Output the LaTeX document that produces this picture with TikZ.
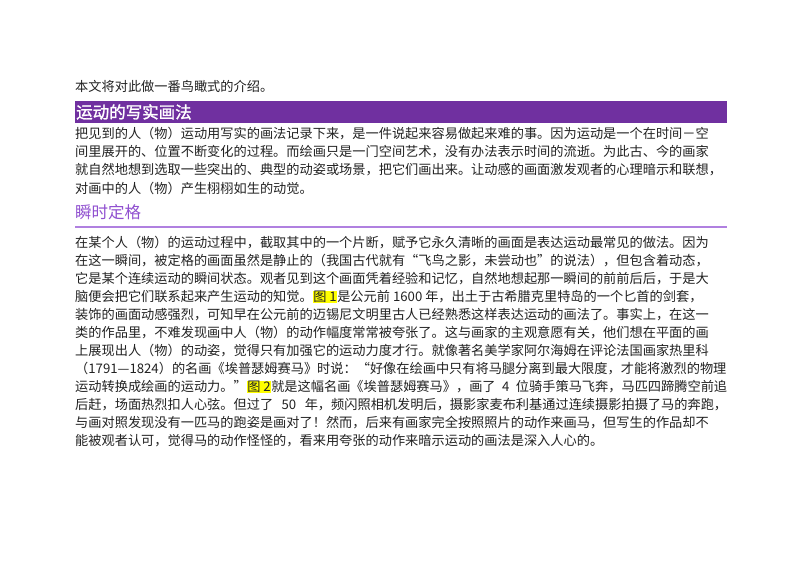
\documentclass[tikz,border=0pt]{standalone}
\usepackage{fontspec}
\setmainfont{Noto Sans CJK SC}
\newfontfamily\hdfont[FakeBold=1.5]{Noto Sans CJK SC}
\XeTeXlinebreaklocale "zh"
\XeTeXlinebreakskip=0pt plus 2pt
\definecolor{barpurple}{HTML}{7030A0}
\definecolor{subpurple}{HTML}{9050D0}
\definecolor{subline}{HTML}{B080E0}
\definecolor{bodytext}{HTML}{222222}
\definecolor{hl}{HTML}{FFFF00}
\newcommand{\figref}[1]{{\setlength{\fboxsep}{0.5pt}\colorbox{hl}{#1}}}
\tikzset{
  txt/.style={anchor=west,inner sep=0pt,font=\fontsize{13.2}{16}\selectfont,text=bodytext},
}
\newcommand{\jl}[3]{\node[txt] (#1) at (75pt,-#2pt) {\hbox to 652pt{#3}};}
\newcommand{\nl}[3]{\node[txt] (#1) at (75pt,-#2pt) {#3};}
\begin{document}
\begin{tikzpicture}
\useasboundingbox (0,0) rectangle (800pt,-563pt);
\fill[white] (0,0) rectangle (800pt,-563pt);
\nl{l0}{86}{本文将对此做一番鸟瞰式的介绍。}
\fill[barpurple] (75pt,-101pt) rectangle (727pt,-123pt);
\node[anchor=west,inner sep=0pt,text=white,font=\hdfont\fontsize{16.5}{18}\selectfont] (h1) at (76pt,-112pt) {运动的写实画法};
\jl{a1}{134}{把见到的人（物）运动用写实的画法记录下来，是一件说起来容易做起来难的事。因为运动是一个在时间－空}
\jl{a2}{152}{间里展开的、位置不断变化的过程。而绘画只是一门空间艺术，没有办法表示时间的流逝。为此古、今的画家}
\jl{a3}{170}{就自然地想到选取一些突出的、典型的动姿或场景，把它们画出来。让动感的画面激发观者的心理暗示和联想，}
\nl{a4}{188}{对画中的人（物）产生栩栩如生的动觉。}
\node[anchor=west,inner sep=0pt,text=subpurple,font=\fontsize{16.5}{18}\selectfont] (h2) at (75pt,-212pt) {瞬时定格};
\draw[subline,line width=1.5pt] (75pt,-227pt) -- (727pt,-227pt);
\jl{b1}{243}{在某个人（物）的运动过程中，截取其中的一个片断，赋予它永久清晰的画面是表达运动最常见的做法。因为}
\jl{b2}{261}{在这一瞬间，被定格的画面虽然是静止的（我国古代就有“飞鸟之影，未尝动也”的说法），但包含着动态，}
\jl{b3}{279}{它是某个连续运动的瞬间状态。观者见到这个画面凭着经验和记忆，自然地想起那一瞬间的前前后后，于是大}
\nl{b4}{297}{脑便会把它们联系起来产生运动的知觉。\figref{图 1}是公元前 1600 年，出土于古希腊克里特岛的一个匕首的剑套，}
\jl{b5}{315}{装饰的画面动感强烈，可知早在公元前的迈锡尼文明里古人已经熟悉这样表达运动的画法了。事实上，在这一}
\jl{b6}{333}{类的作品里，不难发现画中人（物）的动作幅度常常被夸张了。这与画家的主观意愿有关，他们想在平面的画}
\jl{b7}{351}{上展现出人（物）的动姿，觉得只有加强它的运动力度才行。就像著名美学家阿尔海姆在评论法国画家热里科}
\jl{b8}{369}{（1791—1824）的名画《埃普瑟姆赛马》时说：“好像在绘画中只有将马腿分离到最大限度，才能将激烈的物理}
\jl{b9}{387}{运动转换成绘画的运动力。”\figref{图 2}就是这幅名画《埃普瑟姆赛马》，画了 4 位骑手策马飞奔，马匹四蹄腾空前追}
\jl{b10}{405}{后赶，场面热烈扣人心弦。但过了 50 年，频闪照相机发明后，摄影家麦布利基通过连续摄影拍摄了马的奔跑，}
\jl{b11}{423}{与画对照发现没有一匹马的跑姿是画对了！然而，后来有画家完全按照照片的动作来画马，但写生的作品却不}
\nl{b12}{441}{能被观者认可，觉得马的动作怪怪的，看来用夸张的动作来暗示运动的画法是深入人心的。}
\end{tikzpicture}
\end{document}
